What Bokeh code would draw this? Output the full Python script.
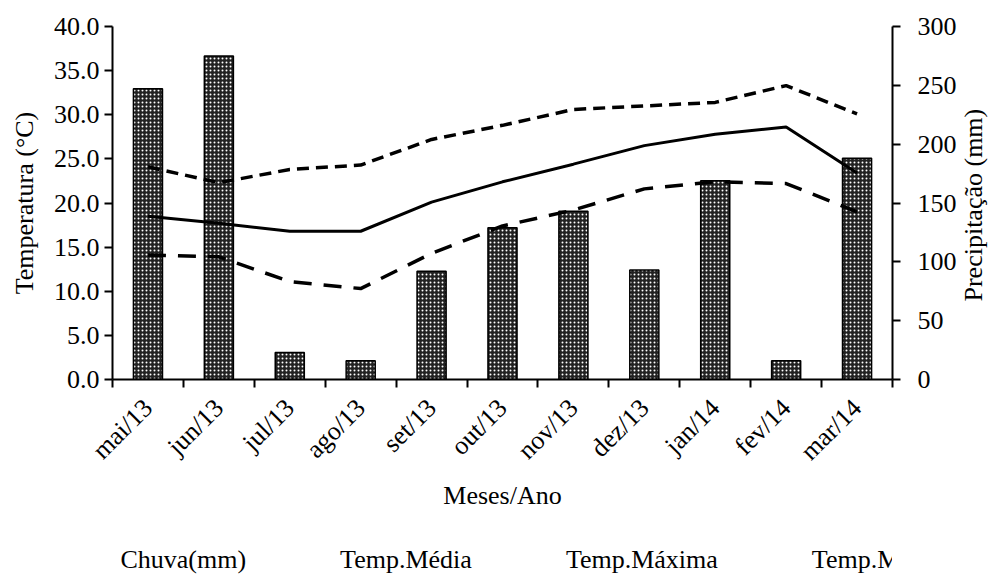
import math
from bokeh.plotting import figure
from bokeh.layouts import column
from bokeh.models import (Range1d, LinearAxis, FixedTicker, PrintfTickFormatter,
                          Legend, LegendItem, ColumnDataSource)
from bokeh.embed import file_html
from bokeh.resources import INLINE

months = ["mai/13", "jun/13", "jul/13", "ago/13", "set/13", "out/13",
          "nov/13", "dez/13", "jan/14", "fev/14", "mar/14"]
chuva = [247, 275, 23, 16, 92, 129, 143, 93, 169, 16, 188]
t_media = [18.5, 17.7, 16.8, 16.8, 20.1, 22.4, 24.4, 26.5, 27.8, 28.6, 23.4]
t_max = [24.1, 22.3, 23.8, 24.3, 27.2, 28.8, 30.6, 31.0, 31.4, 33.3, 30.1]
t_min = [14.1, 13.9, 11.1, 10.3, 14.3, 17.4, 19.2, 21.6, 22.4, 22.2, 19.0]
temp_ticks = [0, 5, 10, 15, 20, 25, 30, 35, 40]
prec_ticks = [0, 50, 100, 150, 200, 250, 300]

FONT = "Liberation Serif"
FS = "26px"

xpos = [i + 0.5 for i in range(len(months))]
src = ColumnDataSource(dict(x=xpos, chuva=chuva, media=t_media, tmax=t_max, tmin=t_min))

p = figure(width=1005, height=544, output_backend="svg", toolbar_location=None,
           x_range=Range1d(0, len(months)), y_range=Range1d(temp_ticks[0], temp_ticks[-1]),
           x_axis_type=None, y_axis_type=None,
           min_border_left=112, min_border_right=110, min_border_top=26, min_border_bottom=165)
p.extra_y_ranges = {"prec": Range1d(prec_ticks[0], prec_ticks[-1])}
p.outline_line_color = None
p.background_fill_color = "white"
p.border_fill_color = "white"


def style_axis(ax):
    ax.axis_line_color = "black"
    ax.axis_line_width = 2
    ax.major_tick_line_color = "black"
    ax.major_tick_line_width = 2
    ax.major_tick_in = 0
    ax.major_tick_out = 8
    ax.minor_tick_line_color = None
    ax.major_label_text_font = FONT
    ax.major_label_text_font_size = FS
    ax.major_label_text_color = "black"
    ax.axis_label_text_font = FONT
    ax.axis_label_text_font_size = FS
    ax.axis_label_text_font_style = "normal"
    ax.axis_label_text_color = "black"


# x axis
xax = LinearAxis(ticker=FixedTicker(ticks=xpos, minor_ticks=list(range(len(months) + 1))))
style_axis(xax)
xax.major_label_overrides = {xv: m for xv, m in zip(xpos, months)}
xax.major_tick_line_color = None
xax.minor_tick_line_color = "black"
xax.minor_tick_line_width = 2
xax.minor_tick_in = 0
xax.minor_tick_out = 8
xax.major_label_orientation = math.pi / 4
xax.major_label_standoff = 16
xax.axis_label = "Meses/Ano"
xax.axis_label_standoff = 2
p.add_layout(xax, "below")

# left axis
yax = LinearAxis(ticker=FixedTicker(ticks=temp_ticks), formatter=PrintfTickFormatter(format="%.1f"))
style_axis(yax)
yax.major_label_standoff = 5
yax.axis_label = "Temperatura (°C)"
yax.axis_label_standoff = 12
p.add_layout(yax, "left")

# right axis (ticks + labels)
rax = LinearAxis(y_range_name="prec", ticker=FixedTicker(ticks=prec_ticks))
style_axis(rax)
rax.major_label_standoff = 17
p.add_layout(rax, "right")

# right axis title (reads bottom-to-top, like the reference)
rtit = LinearAxis(y_range_name="prec", ticker=FixedTicker(ticks=[]))
style_axis(rtit)
rtit.axis_line_color = None
rtit.major_tick_out = 0
rtit.axis_label_standoff = 14
rtit.axis_label_orientation = math.pi / 2
try:
    rtit.axis_label_align = "start"
    rtit.axis_label = "\u00a0" * 12 + "Precipitação (mm)"
except Exception:
    rtit.axis_label_orientation = "parallel"
    rtit.axis_label = "Precipitação (mm)"
p.add_layout(rtit, "right")

bar_style = dict(fill_color="#222222", line_color="black", line_width=1.5,
                 hatch_pattern="dot", hatch_color="white", hatch_scale=4, hatch_weight=1.0)
med_style = dict(line_color="black", line_width=3)
max_style = dict(line_color="black", line_width=3.5, line_dash="12 7")
min_style = dict(line_color="black", line_width=3.5, line_dash="18 12")

p.vbar(x="x", top="chuva", width=0.41, source=src, y_range_name="prec", **bar_style)
p.line("x", "media", source=src, **med_style)
p.line("x", "tmax", source=src, **max_style)
p.line("x", "tmin", source=src, **min_style)

# legend strip below the chart
p2 = figure(width=1005, height=32, output_backend="svg", toolbar_location=None,
            x_range=Range1d(0, 1), y_range=Range1d(0, 1),
            x_axis_type=None, y_axis_type=None,
            min_border_left=2, min_border_right=0, min_border_top=0, min_border_bottom=0)
p2.outline_line_color = None
p2.background_fill_color = "white"
p2.border_fill_color = "white"
empty = ColumnDataSource(dict(x=[], y=[]))
lg_bar = p2.vbar(x="x", top="y", width=0.41, source=empty, **bar_style)
lg_med = p2.line("x", "y", source=empty, **med_style)
lg_max = p2.line("x", "y", source=empty, **max_style)
lg_min = p2.line("x", "y", source=empty, **min_style)

legend = Legend(items=[
    LegendItem(label="Chuva(mm)", renderers=[lg_bar]),
    LegendItem(label="Temp.Média", renderers=[lg_med]),
    LegendItem(label="Temp.Máxima", renderers=[lg_max]),
    LegendItem(label="Temp.Mínima", renderers=[lg_min]),
], orientation="horizontal", location="center")
legend.label_text_font = FONT
legend.label_text_font_size = FS
legend.label_text_color = "black"
legend.glyph_width = 66
legend.glyph_height = 18
legend.label_standoff = 10
legend.spacing = 18
legend.padding = 0
legend.margin = 0
legend.border_line_color = None
legend.background_fill_alpha = 0
p2.add_layout(legend)

page = column(p, p2, spacing=0)

open("out.html", "w").write(file_html(page, INLINE))
